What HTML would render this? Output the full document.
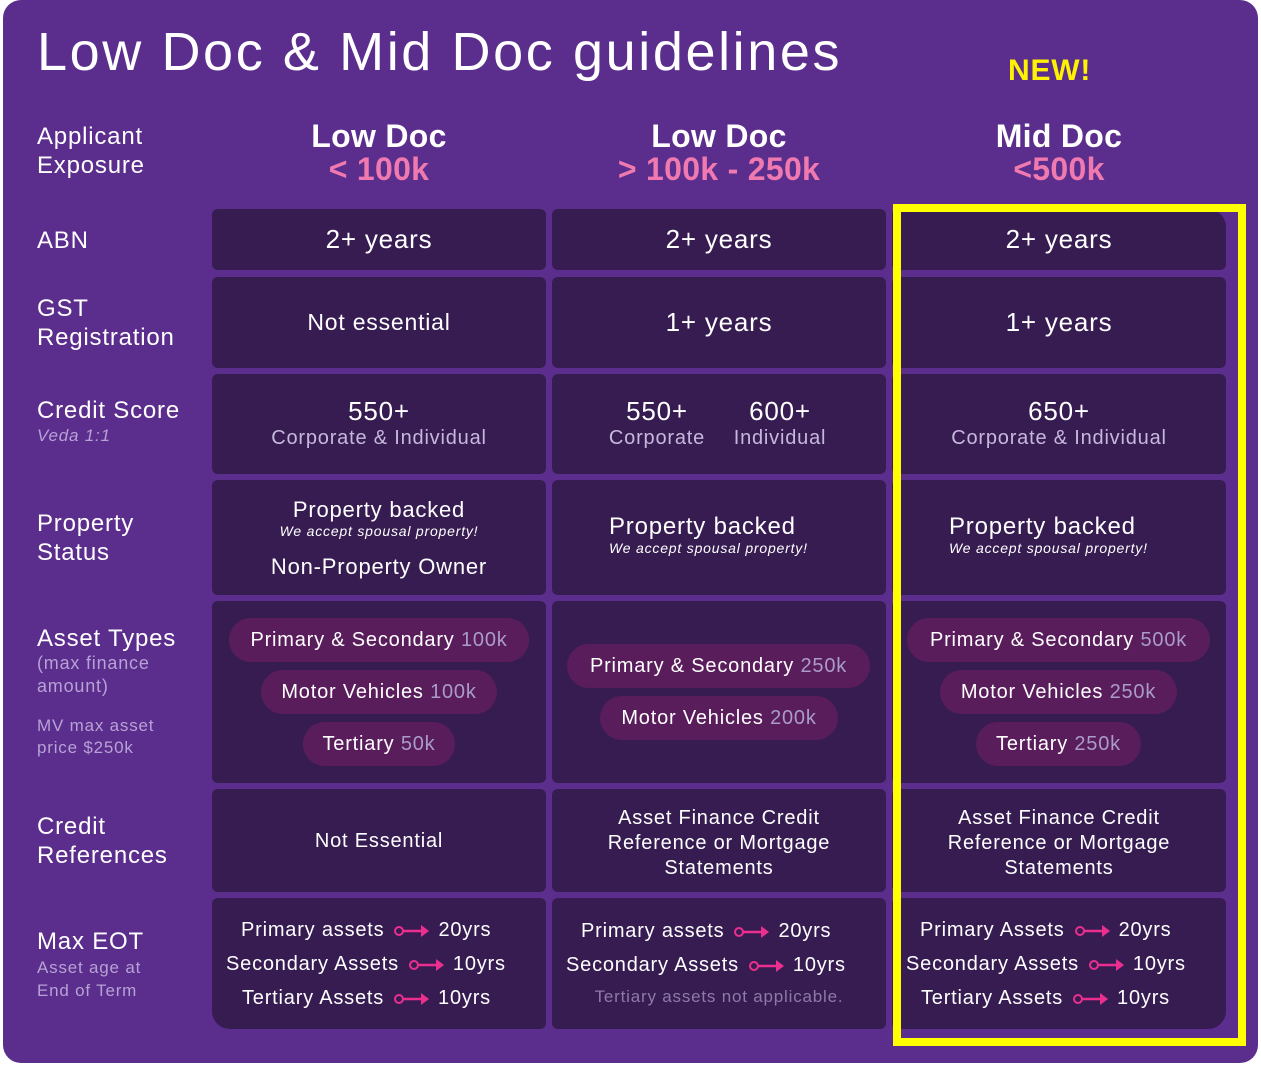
<!DOCTYPE html>
<html><head><meta charset="utf-8"><style>
*{margin:0;padding:0;box-sizing:border-box}
body{width:1261px;height:1066px;background:#fff;position:relative;overflow:hidden;font-family:"Liberation Sans",sans-serif;color:#fff;letter-spacing:0.8px}
.card{position:absolute;left:3px;top:0;width:1255px;height:1063px;background:#5b2d8c;border-radius:18px}
.c{position:absolute;background:#371c52;border-radius:6px}
.t{position:absolute;white-space:nowrap;line-height:1}
.col1{left:212px;width:334px;text-align:center}
.col2{left:552px;width:334px;text-align:center}
.col3{left:892px;width:334px;text-align:center}
.lbl{position:absolute;left:37px;font-size:24px;line-height:29px}
.sub{color:#b7a2d6;font-size:18px;line-height:22px}
.pill{position:absolute;height:44px;border-radius:22px;background:#5a1d5c;font-size:20px;line-height:44px;text-align:center;white-space:nowrap}
.pill span{color:#a99cc8}
.h{font-weight:bold;font-size:32px;letter-spacing:0.3px}
.pk{color:#f07ab0}
.gr{color:#c6b8dc}
.eot{position:absolute;font-size:20px;line-height:1;white-space:nowrap}
svg.ar{vertical-align:middle;margin:0 8px 0 10px}
</style></head><body>
<div class="card"></div>
<div class="t" style="left:37px;top:25px;font-size:54px;letter-spacing:2.6px">Low Doc &amp; Mid Doc guidelines</div>
<div class="t" style="left:1008px;top:56px;font-size:30px;font-weight:bold;color:#fff200">NEW!</div>

<div class="lbl" style="top:122px">Applicant<br>Exposure</div>
<div class="t col1 h" style="top:120px">Low Doc</div>
<div class="t col1 h pk" style="top:153px">&lt; 100k</div>
<div class="t col2 h" style="top:120px">Low Doc</div>
<div class="t col2 h pk" style="top:153px">&gt; 100k - 250k</div>
<div class="t col3 h" style="top:120px">Mid Doc</div>
<div class="t col3 h pk" style="top:153px">&lt;500k</div>

<div class="c" style="left:212px;top:209px;width:334px;height:61px"></div>
<div class="c" style="left:552px;top:209px;width:334px;height:61px"></div>
<div class="c" style="left:892px;top:209px;width:334px;height:61px;border-top-right-radius:18px"></div>
<div class="c" style="left:212px;top:277px;width:334px;height:91px"></div>
<div class="c" style="left:552px;top:277px;width:334px;height:91px"></div>
<div class="c" style="left:892px;top:277px;width:334px;height:91px"></div>
<div class="c" style="left:212px;top:374px;width:334px;height:100px"></div>
<div class="c" style="left:552px;top:374px;width:334px;height:100px"></div>
<div class="c" style="left:892px;top:374px;width:334px;height:100px"></div>
<div class="c" style="left:212px;top:480px;width:334px;height:115px"></div>
<div class="c" style="left:552px;top:480px;width:334px;height:115px"></div>
<div class="c" style="left:892px;top:480px;width:334px;height:115px"></div>
<div class="c" style="left:212px;top:601px;width:334px;height:182px"></div>
<div class="c" style="left:552px;top:601px;width:334px;height:182px"></div>
<div class="c" style="left:892px;top:601px;width:334px;height:182px"></div>
<div class="c" style="left:212px;top:789px;width:334px;height:103px"></div>
<div class="c" style="left:552px;top:789px;width:334px;height:103px"></div>
<div class="c" style="left:892px;top:789px;width:334px;height:103px"></div>
<div class="c" style="left:212px;top:898px;width:334px;height:131px;border-bottom-left-radius:18px"></div>
<div class="c" style="left:552px;top:898px;width:334px;height:131px"></div>
<div class="c" style="left:892px;top:898px;width:334px;height:131px;border-bottom-right-radius:18px"></div>

<div class="lbl" style="top:226px">ABN</div>
<div class="t col1" style="top:226px;font-size:26px">2+ years</div>
<div class="t col2" style="top:226px;font-size:26px">2+ years</div>
<div class="t col3" style="top:226px;font-size:26px">2+ years</div>

<div class="lbl" style="top:294px">GST<br>Registration</div>
<div class="t col1" style="top:311px;font-size:23px">Not essential</div>
<div class="t col2" style="top:309px;font-size:26px">1+ years</div>
<div class="t col3" style="top:309px;font-size:26px">1+ years</div>

<div class="lbl" style="top:396px">Credit Score</div>
<div class="t sub" style="left:37px;top:425px;font-style:italic;font-size:17px">Veda 1:1</div>
<div class="t col1" style="top:398px;font-size:26px">550+</div>
<div class="t col1 gr" style="top:428px;font-size:20px">Corporate &amp; Individual</div>
<div class="t" style="left:602px;top:398px;width:110px;text-align:center;font-size:26px">550+</div>
<div class="t gr" style="left:602px;top:428px;width:110px;text-align:center;font-size:20px">Corporate</div>
<div class="t" style="left:728px;top:398px;width:104px;text-align:center;font-size:26px">600+</div>
<div class="t gr" style="left:728px;top:428px;width:104px;text-align:center;font-size:20px">Individual</div>
<div class="t col3" style="top:398px;font-size:26px">650+</div>
<div class="t col3 gr" style="top:428px;font-size:20px">Corporate &amp; Individual</div>

<div class="lbl" style="top:509px">Property<br>Status</div>
<div class="t col1" style="top:499px;font-size:22px">Property backed</div>
<div class="t col1" style="top:524px;font-size:14px;font-style:italic">We accept spousal property!</div>
<div class="t col1" style="top:556px;font-size:22px">Non-Property Owner</div>
<div class="t" style="left:609px;top:515px;font-size:24px">Property backed</div>
<div class="t" style="left:609px;top:541px;font-size:14px;font-style:italic">We accept spousal property!</div>
<div class="t" style="left:949px;top:515px;font-size:24px">Property backed</div>
<div class="t" style="left:949px;top:541px;font-size:14px;font-style:italic">We accept spousal property!</div>

<div class="lbl" style="top:624px">Asset Types</div>
<div class="t sub" style="left:37px;top:652px;line-height:23px;white-space:normal">(max finance<br>amount)</div>
<div class="t sub" style="left:37px;top:715px;font-size:17px;line-height:22px;white-space:normal">MV max asset<br>price $250k</div>
<div class="pill" style="left:229px;top:618px;width:300px">Primary &amp; Secondary <span>100k</span></div>
<div class="pill" style="left:261px;top:670px;width:236px">Motor Vehicles <span>100k</span></div>
<div class="pill" style="left:303px;top:722px;width:152px">Tertiary <span>50k</span></div>
<div class="pill" style="left:567px;top:644px;width:303px">Primary &amp; Secondary <span>250k</span></div>
<div class="pill" style="left:600px;top:696px;width:238px">Motor Vehicles <span>200k</span></div>
<div class="pill" style="left:907px;top:618px;width:303px">Primary &amp; Secondary <span>500k</span></div>
<div class="pill" style="left:940px;top:670px;width:237px">Motor Vehicles <span>250k</span></div>
<div class="pill" style="left:976px;top:722px;width:165px">Tertiary <span>250k</span></div>

<div class="lbl" style="top:812px">Credit<br>References</div>
<div class="t col1" style="top:831px;font-size:20px">Not Essential</div>
<div class="t col2" style="top:806px;font-size:20px;line-height:25px">Asset Finance Credit<br>Reference or Mortgage<br>Statements</div>
<div class="t col3" style="top:806px;font-size:20px;line-height:25px">Asset Finance Credit<br>Reference or Mortgage<br>Statements</div>

<div class="lbl" style="top:927px">Max EOT</div>
<div class="t sub" style="left:37px;top:956px;font-size:17px;line-height:23px;white-space:normal">Asset age at<br>End of Term</div>

<div class="eot" style="left:241px;top:920px">Primary assets<svg class="ar" width="36" height="14"><circle cx="5" cy="7" r="4" fill="none" stroke="#ec2f8f" stroke-width="2"/><line x1="9" y1="7" x2="28" y2="7" stroke="#ec2f8f" stroke-width="2.5"/><path d="M27 1 L35 7 L27 13Z" fill="#ec2f8f"/></svg>20yrs</div>
<div class="eot" style="left:226px;top:954px">Secondary Assets<svg class="ar" width="36" height="14"><circle cx="5" cy="7" r="4" fill="none" stroke="#ec2f8f" stroke-width="2"/><line x1="9" y1="7" x2="28" y2="7" stroke="#ec2f8f" stroke-width="2.5"/><path d="M27 1 L35 7 L27 13Z" fill="#ec2f8f"/></svg>10yrs</div>
<div class="eot" style="left:242px;top:988px">Tertiary Assets<svg class="ar" width="36" height="14"><circle cx="5" cy="7" r="4" fill="none" stroke="#ec2f8f" stroke-width="2"/><line x1="9" y1="7" x2="28" y2="7" stroke="#ec2f8f" stroke-width="2.5"/><path d="M27 1 L35 7 L27 13Z" fill="#ec2f8f"/></svg>10yrs</div>

<div class="eot" style="left:581px;top:921px">Primary assets<svg class="ar" width="36" height="14"><circle cx="5" cy="7" r="4" fill="none" stroke="#ec2f8f" stroke-width="2"/><line x1="9" y1="7" x2="28" y2="7" stroke="#ec2f8f" stroke-width="2.5"/><path d="M27 1 L35 7 L27 13Z" fill="#ec2f8f"/></svg>20yrs</div>
<div class="eot" style="left:566px;top:955px">Secondary Assets<svg class="ar" width="36" height="14"><circle cx="5" cy="7" r="4" fill="none" stroke="#ec2f8f" stroke-width="2"/><line x1="9" y1="7" x2="28" y2="7" stroke="#ec2f8f" stroke-width="2.5"/><path d="M27 1 L35 7 L27 13Z" fill="#ec2f8f"/></svg>10yrs</div>
<div class="t col2" style="top:988px;font-size:17px;color:#8e7aa8">Tertiary assets not applicable.</div>

<div class="eot" style="left:920px;top:920px">Primary Assets<svg class="ar" width="36" height="14"><circle cx="5" cy="7" r="4" fill="none" stroke="#ec2f8f" stroke-width="2"/><line x1="9" y1="7" x2="28" y2="7" stroke="#ec2f8f" stroke-width="2.5"/><path d="M27 1 L35 7 L27 13Z" fill="#ec2f8f"/></svg>20yrs</div>
<div class="eot" style="left:906px;top:954px">Secondary Assets<svg class="ar" width="36" height="14"><circle cx="5" cy="7" r="4" fill="none" stroke="#ec2f8f" stroke-width="2"/><line x1="9" y1="7" x2="28" y2="7" stroke="#ec2f8f" stroke-width="2.5"/><path d="M27 1 L35 7 L27 13Z" fill="#ec2f8f"/></svg>10yrs</div>
<div class="eot" style="left:921px;top:988px">Tertiary Assets<svg class="ar" width="36" height="14"><circle cx="5" cy="7" r="4" fill="none" stroke="#ec2f8f" stroke-width="2"/><line x1="9" y1="7" x2="28" y2="7" stroke="#ec2f8f" stroke-width="2.5"/><path d="M27 1 L35 7 L27 13Z" fill="#ec2f8f"/></svg>10yrs</div>

<div style="position:absolute;left:893px;top:204px;width:353px;height:842px;border:8px solid #ffff00"></div>
</body></html>
